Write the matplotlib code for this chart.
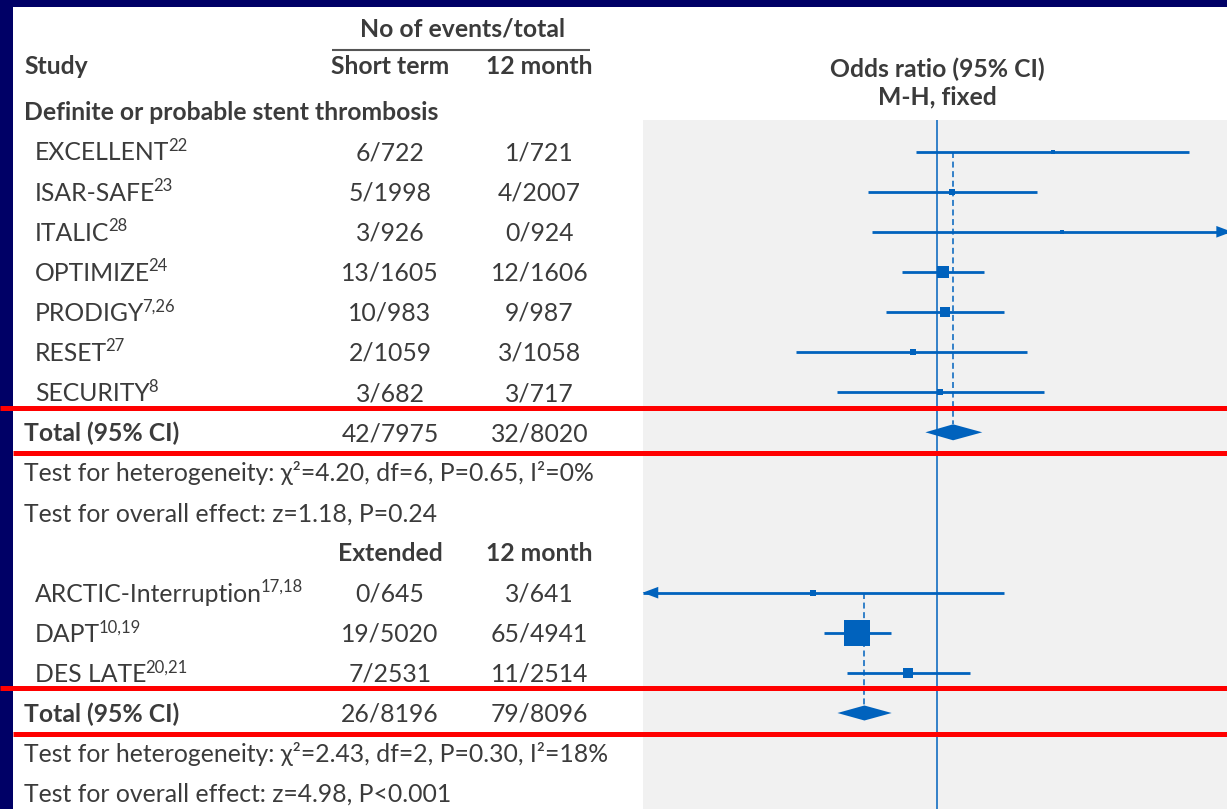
import matplotlib
import numpy as np
from matplotlib import pyplot as plt
from matplotlib.patches import Rectangle

matplotlib.use("Agg")

plt.rcParams["font.family"] = ["Lato", "DejaVu Sans"]
plt.rcParams["lines.scale_dashes"] = False

# ---- short term vs 12 month DAPT ----
short_names = ["EXCELLENT", "ISAR-SAFE", "ITALIC", "OPTIMIZE", "PRODIGY", "RESET", "SECURITY"]
short_refs = ["22", "23", "28", "24", "7,26", "27", "8"]
short_events = [6, 5, 3, 13, 10, 2, 3]
short_totals = [722, 1998, 926, 1605, 983, 1059, 682]
short_ctrl_events = [1, 4, 0, 12, 9, 3, 3]
short_ctrl_totals = [721, 2007, 924, 1606, 987, 1058, 717]
short_or = [6.07, 1.26, 7.02, 1.10, 1.13, 0.68, 1.05]
short_lo = [0.72, 0.34, 0.36, 0.58, 0.45, 0.11, 0.21]
short_hi = [51.4, 4.77, 136.0, 2.08, 2.85, 4.06, 5.33]
short_weight = [3.0, 6.6, 3.0, 24.2, 15.1, 6.6, 6.6]
short_pooled = (1.28, 0.83, 2.02)
short_total = ((42, 7975), (32, 8020))
short_tests = ["Test for heterogeneity: χ²=4.20, df=6, P=0.65, I²=0%",
               "Test for overall effect: z=1.18, P=0.24"]

# ---- extended vs 12 month DAPT ----
ext_names = ["ARCTIC-Interruption", "DAPT", "DES LATE"]
ext_refs = ["17,18", "10,19", "20,21"]
ext_events = [0, 19, 7]
ext_totals = [645, 5020, 2531]
ext_ctrl_events = [3, 65, 11]
ext_ctrl_totals = [641, 4941, 2514]
ext_or = [0.143, 0.286, 0.63]
ext_lo = [0.0073, 0.169, 0.243]
ext_hi = [2.85, 0.487, 1.66]
ext_weight = [6.6, 100.0, 12.0]
ext_pooled = (0.32, 0.21, 0.49)
ext_total = ((26, 8196), (79, 8096))
ext_tests = ["Test for heterogeneity: χ²=2.43, df=2, P=0.30, I²=18%",
             "Test for overall effect: z=4.98, P<0.001"]

W, H = 1227, 809
TXT = "#3b3b3b"
BLUE = "#0062bd"
NAVY = "#000066"
FS = 17.8                      # pt
CAP = 0.7165 * FS / 0.72       # cap height in px
ROW0, ROW_STEP = 111.5, 40.1
COL1, COL2 = 390, 539.5
XMIN, XMAX = 0.01, 100


def row_y(k):
    return ROW0 + ROW_STEP * k


fig = plt.figure(figsize=(W / 100, H / 100), dpi=100)
fig.patch.set_facecolor("white")

# forest panel, y axis in pixel rows
panel_left, panel_top, panel_w = 642.7, 120, 589.2
ax = fig.add_axes([panel_left / W, 0, panel_w / W, (H - panel_top) / H])
ax.set_xscale("log")
ax.set_xlim(XMIN, XMAX)
ax.set_ylim(H, panel_top)
ax.set_facecolor("#f1f1f1")
for s in ax.spines.values():
    s.set_visible(False)
ax.set_xticks([])
ax.set_xticks([], minor=True)
ax.set_yticks([])

ax.axvline(1, color=BLUE, lw=1.1, zorder=2)

# text layer over everything
ax_t = fig.add_axes([0, 0, 1, 1], zorder=5)
ax_t.set_xlim(0, W)
ax_t.set_ylim(H, 0)
ax_t.axis("off")


def put(x, y, s, bold=False, ha="left", size=FS):
    return ax_t.text(x, y + CAP / 2, s, ha=ha, va="baseline", fontsize=size,
                     fontweight="bold" if bold else "normal", color=TXT)


def study(x, y, name, ref):
    t = put(x, y, name)
    ax_t.annotate(ref, xy=(1, 1), xycoords=t, xytext=(-1.2, 2.5),
                  textcoords="offset points", fontsize=12, va="top",
                  ha="left", color=TXT)


def ci_row(y, est, lo, hi, weight):
    a, b = max(lo, XMIN), min(hi, XMAX)
    ax.hlines(y, a, b, color=BLUE, lw=2.0, zorder=3)
    head = dict(arrowstyle="-|>,head_length=0.8,head_width=0.3", color=BLUE,
                lw=0, shrinkA=0, shrinkB=0, mutation_scale=14)
    if lo < XMIN:
        ax.annotate("", xy=(XMIN, y), xytext=(14, 0), textcoords="offset points",
                    arrowprops=head, annotation_clip=False, zorder=4)
    if hi > XMAX:
        ax.annotate("", xy=(XMAX, y), xytext=(-14, 0), textcoords="offset points",
                    arrowprops=head, annotation_clip=False, zorder=4)
    side = max(2.6 * np.sqrt(weight), 4.5) * 0.72
    ax.scatter([est], [y], marker="s", s=side ** 2, color=BLUE, lw=0, zorder=4)


def diamond(y, pooled, half=8):
    est, lo, hi = pooled
    ax.fill([lo, est, hi, est], [y, y - half, y, y + half], color=BLUE, lw=0, zorder=4)


# headers
put(462, 28, "No of events/total", bold=True, ha="center")
ax_t.hlines(49.5, 331.7, 590, color="#555555", lw=1.5)
put(24, 65.5, "Study", bold=True)
put(COL1, 65.5, "Short term", bold=True, ha="center")
put(COL2, 65.5, "12 month", bold=True, ha="center")
put(937.3, 68, "Odds ratio (95% CI)", bold=True, ha="center")
put(937.3, 96, "M-H, fixed", bold=True, ha="center")
put(24, row_y(0), "Definite or probable stent thrombosis", bold=True)

# short term group
for i, name in enumerate(short_names):
    y = row_y(1 + i)
    study(35, y, name, short_refs[i])
    put(COL1, y, f"{short_events[i]}/{short_totals[i]}", ha="center")
    put(COL2, y, f"{short_ctrl_events[i]}/{short_ctrl_totals[i]}", ha="center")
    ci_row(y, short_or[i], short_lo[i], short_hi[i], short_weight[i])

y_tot = row_y(8)
put(24, y_tot, "Total (95% CI)", bold=True)
put(COL1, y_tot, "{}/{}".format(*short_total[0]), ha="center")
put(COL2, y_tot, "{}/{}".format(*short_total[1]), ha="center")
diamond(y_tot, short_pooled)
ax.vlines(short_pooled[0], row_y(1), y_tot - 8, color=BLUE, lw=1.1,
          linestyles=(0, (4.3, 2.6)), zorder=2)
put(24, row_y(9), short_tests[0])
put(24, row_y(10), short_tests[1])

# extended group
put(COL1, row_y(11), "Extended", bold=True, ha="center")
put(COL2, row_y(11), "12 month", bold=True, ha="center")
for i, name in enumerate(ext_names):
    y = row_y(12 + i)
    study(35, y, name, ext_refs[i])
    put(COL1, y, f"{ext_events[i]}/{ext_totals[i]}", ha="center")
    put(COL2, y, f"{ext_ctrl_events[i]}/{ext_ctrl_totals[i]}", ha="center")
    ci_row(y, ext_or[i], ext_lo[i], ext_hi[i], ext_weight[i])

y_tot = row_y(15)
put(24, y_tot, "Total (95% CI)", bold=True)
put(COL1, y_tot, "{}/{}".format(*ext_total[0]), ha="center")
put(COL2, y_tot, "{}/{}".format(*ext_total[1]), ha="center")
diamond(y_tot, ext_pooled, half=7.5)
ax.vlines(ext_pooled[0], row_y(12), y_tot - 7.5, color=BLUE, lw=1.1,
          linestyles=(0, (4.3, 2.6)), zorder=2)
put(24, row_y(16), ext_tests[0])
put(24, row_y(17), ext_tests[1])

# frame and highlight bars
ax_t.add_patch(Rectangle((0, 0), 12.7, H, color=NAVY, lw=0, zorder=1))
ax_t.add_patch(Rectangle((0, 0), W, 6.7, color=NAVY, lw=0, zorder=1))
for y, x0 in [(407.7, 0), (453.3, 12.7), (688.3, 0), (733.5, 12.7)]:
    ax_t.hlines(y, x0, W, color="#ff0000", lw=3.6, zorder=2)

plt.savefig("out.png", dpi=100)
plt.close("all")
